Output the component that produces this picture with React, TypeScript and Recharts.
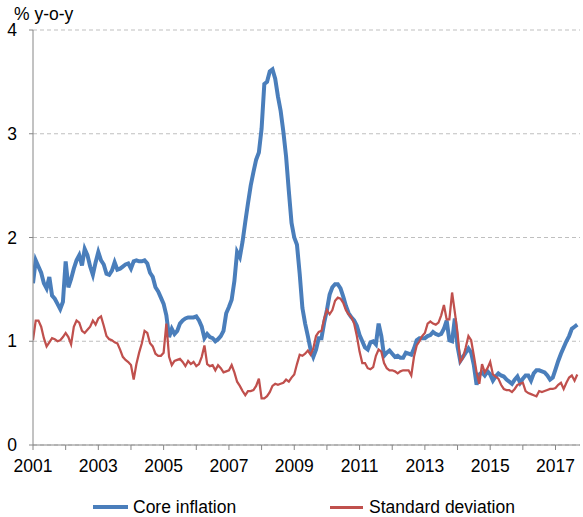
import { LineChart, Line, XAxis, YAxis, CartesianGrid, Legend } from "recharts";

const BLUE = "#4A7EBB";
const RED = "#C0504D";
const FONT = "'Liberation Sans', Arial, sans-serif";

// monthly observations, Jan 2001 .. Sep 2017
const START_YEAR = 2001;

const coreInflation = [
  1.56, 1.78, 1.72, 1.66, 1.56, 1.51, 1.62, 1.44, 1.41, 1.36, 1.31, 1.38, // 2001
  1.77, 1.52, 1.60, 1.70, 1.78, 1.83, 1.73, 1.89, 1.83, 1.72, 1.64, 1.76, // 2002
  1.86, 1.78, 1.74, 1.65, 1.64, 1.68, 1.76, 1.69, 1.70, 1.72, 1.74, 1.75, // 2003
  1.70, 1.77, 1.78, 1.77, 1.77, 1.78, 1.75, 1.66, 1.62, 1.52, 1.48, 1.42, // 2004
  1.36, 1.25, 1.04, 1.12, 1.07, 1.10, 1.17, 1.20, 1.22, 1.23, 1.23, 1.23, // 2005
  1.24, 1.20, 1.14, 1.03, 1.07, 1.04, 1.03, 1.00, 1.02, 1.05, 1.10, 1.27, // 2006
  1.33, 1.40, 1.58, 1.86, 1.81, 1.96, 2.15, 2.33, 2.50, 2.63, 2.75, 2.82, // 2007
  3.05, 3.48, 3.50, 3.60, 3.62, 3.53, 3.36, 3.22, 3.02, 2.78, 2.45, 2.14, // 2008
  2.00, 1.93, 1.65, 1.32, 1.17, 1.05, 0.92, 0.85, 0.92, 1.03, 1.03, 1.18, // 2009
  1.30, 1.45, 1.52, 1.55, 1.55, 1.51, 1.43, 1.34, 1.27, 1.23, 1.20, 1.15, // 2010
  1.06, 1.00, 0.94, 0.92, 0.99, 1.00, 0.97, 1.17, 1.05, 0.86, 0.89, 0.91, // 2011
  0.88, 0.85, 0.86, 0.84, 0.84, 0.89, 0.88, 0.87, 0.93, 1.01, 1.03, 1.03, // 2012
  1.03, 1.05, 1.06, 1.09, 1.07, 1.06, 1.07, 1.12, 1.20, 1.01, 1.00, 1.22, // 2013
  0.95, 0.81, 0.85, 0.89, 0.93, 0.89, 0.77, 0.58, 0.68, 0.70, 0.67, 0.71, // 2014
  0.68, 0.62, 0.66, 0.69, 0.67, 0.66, 0.63, 0.61, 0.59, 0.63, 0.66, 0.60, // 2015
  0.64, 0.67, 0.67, 0.62, 0.69, 0.72, 0.72, 0.71, 0.70, 0.67, 0.63, 0.65, // 2016
  0.73, 0.81, 0.88, 0.94, 1.00, 1.05, 1.12, 1.14, 1.16, // 2017
];

const standardDeviation = [
  1.01, 1.20, 1.20, 1.14, 1.03, 0.95, 0.99, 1.03, 1.02, 1.00, 1.01, 1.04, // 2001
  1.08, 1.04, 0.97, 1.14, 1.20, 1.18, 1.10, 1.08, 1.11, 1.14, 1.20, 1.16, // 2002
  1.22, 1.24, 1.15, 1.05, 1.02, 1.01, 0.99, 0.98, 0.92, 0.85, 0.82, 0.80, // 2003
  0.77, 0.63, 0.78, 0.89, 0.98, 1.10, 1.08, 0.98, 0.95, 0.88, 0.86, 0.86, // 2004
  0.89, 1.17, 0.85, 0.77, 0.81, 0.82, 0.83, 0.80, 0.76, 0.81, 0.78, 0.80, // 2005
  0.76, 0.78, 0.85, 0.96, 0.78, 0.76, 0.77, 0.72, 0.77, 0.74, 0.70, 0.71, // 2006
  0.72, 0.77, 0.70, 0.61, 0.57, 0.52, 0.48, 0.52, 0.52, 0.53, 0.57, 0.64, // 2007
  0.45, 0.45, 0.47, 0.51, 0.57, 0.59, 0.58, 0.59, 0.60, 0.63, 0.61, 0.65, // 2008
  0.68, 0.78, 0.87, 0.86, 0.88, 0.91, 0.87, 0.93, 1.05, 1.09, 1.10, 1.22, // 2009
  1.30, 1.26, 1.30, 1.39, 1.42, 1.41, 1.37, 1.30, 1.26, 1.23, 1.17, 1.05, // 2010
  0.90, 0.79, 0.79, 0.74, 0.73, 0.75, 0.86, 0.92, 0.90, 0.79, 0.74, 0.72, // 2011
  0.72, 0.71, 0.69, 0.71, 0.72, 0.72, 0.72, 0.67, 0.85, 0.96, 1.00, 1.05, // 2012
  1.08, 1.17, 1.19, 1.17, 1.16, 1.18, 1.25, 1.35, 1.21, 1.21, 1.47, 1.28, // 2013
  1.08, 0.80, 0.84, 0.94, 1.05, 1.01, 0.86, 0.70, 0.59, 0.78, 0.70, 0.74, // 2014
  0.80, 0.68, 0.66, 0.64, 0.58, 0.54, 0.53, 0.53, 0.51, 0.54, 0.58, 0.59, // 2015
  0.60, 0.52, 0.50, 0.49, 0.48, 0.47, 0.52, 0.51, 0.52, 0.53, 0.54, 0.54, // 2016
  0.55, 0.58, 0.60, 0.54, 0.60, 0.65, 0.67, 0.62, 0.68, // 2017
];

const yearTicks = [
  2001, 2002, 2003, 2004, 2005, 2006, 2007, 2008, 2009,
  2010, 2011, 2012, 2013, 2014, 2015, 2016, 2017,
];
const labelledYears = [2001, 2003, 2005, 2007, 2009, 2011, 2013, 2015, 2017];
const valueTicks = [0, 1, 2, 3, 4];

const data = coreInflation.map((v, i) => ({
  t: START_YEAR + i / 12,
  core: v,
  sd: standardDeviation[i],
}));

function ChartLegend() {
  const text = { position: "absolute" as const, top: 22, lineHeight: "20px", fontSize: 17.5, fontFamily: FONT, color: "#000", whiteSpace: "nowrap" as const };
  return (
    <div style={{ position: "relative", width: 583, height: 42 }}>
      <div style={{ position: "absolute", left: 93, top: 30, width: 35, height: 4, background: BLUE }} />
      <span style={{ ...text, left: 133 }}>Core inflation</span>
      <div style={{ position: "absolute", left: 330, top: 31, width: 33, height: 2.5, background: RED }} />
      <span style={{ ...text, left: 369 }}>Standard deviation</span>
    </div>
  );
}

export default function App() {
  const tick = { fill: "#000", fontSize: 17.5, fontFamily: FONT };
  return (
    <div style={{ position: "relative", width: 583, height: 517 }}>
      <style>{"body { margin: 0; }"}</style>
      <div style={{ position: "absolute", left: 14, top: 4, fontSize: 17.5, fontFamily: FONT, lineHeight: "20px", whiteSpace: "nowrap", zIndex: 1 }}>
        % y-o-y
      </div>
      <LineChart width={583} height={517} data={data} margin={{ top: 30, right: 3, bottom: 0, left: 8 }}>
        <CartesianGrid vertical={false} stroke="#BFBFBF" strokeDasharray="4 3" />
        <XAxis
          dataKey="t"
          type="number"
          domain={[2001, 2017.75]}
          ticks={yearTicks}
          interval={0}
          tickFormatter={(y: number) => (labelledYears.includes(y) ? String(y) : "")}
          height={30}
          tickSize={5}
          tickMargin={10}
          stroke="#868686"
          tick={tick}
          allowDataOverflow
        />
        <YAxis
          domain={[0, 4]}
          ticks={valueTicks}
          width={25}
          tickSize={4}
          tickMargin={12}
          stroke="#868686"
          tick={tick}
        />
        <Legend verticalAlign="bottom" content={<ChartLegend />} wrapperStyle={{ left: 0, width: 583, height: 42 }} />
        <Line dataKey="core" name="Core inflation" stroke={BLUE} strokeWidth={4} dot={false} isAnimationActive={false} />
        <Line dataKey="sd" name="Standard deviation" stroke={RED} strokeWidth={2.25} dot={false} isAnimationActive={false} />
      </LineChart>
    </div>
  );
}
